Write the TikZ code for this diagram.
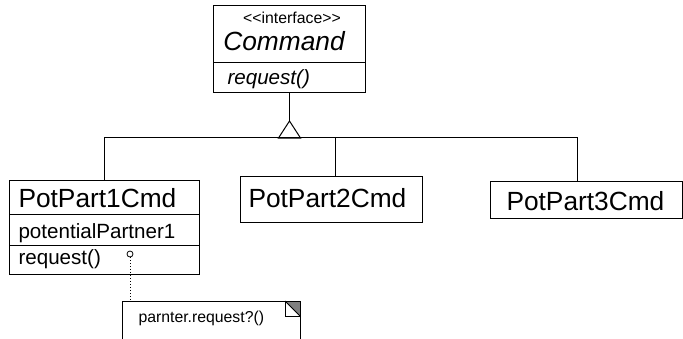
\documentclass[tikz,border=0pt]{standalone}
\usepackage{fontspec}
\setmainfont{Liberation Sans}
\usetikzlibrary{calc}
\usetikzlibrary{positioning}

\begin{document}
\begin{tikzpicture}[x=1pt,y=-1pt,line width=1pt,box/.style={draw,rectangle,inner sep=0pt,anchor=north west},lbl/.style={inner sep=0pt,anchor=base west},big/.style={font=\fontsize{26.3}{30}\selectfont},mid/.style={font=\fontsize{20.6}{24}\selectfont},small/.style={font=\fontsize{15.8}{18}\selectfont}]
\clip (0,0) rectangle (683,338);
% interface
\node (cmdHead) at (213,5) [box,minimum width=152,minimum height=57] {};
\node (cmdOps) at (213,62) [box,minimum width=152,minimum height=30] {};
\node (cmdStereo) at (292,23) [lbl,small,anchor=base] {<\kern0pt<interface>\kern0pt>};
\node (cmdName) at (284,50) [lbl,big,anchor=base] {\itshape Command};
\node (cmdReq) at (227,84) [lbl,mid] {\itshape request()};
% concrete commands
\node (p1Name) at (9,180) [box,minimum width=190,minimum height=34] {};
\node (p1Attr) at (9,214) [box,minimum width=190,minimum height=31] {};
\node (p1Ops) at (9,245) [box,minimum width=190,minimum height=29] {};
\node (p1Txt) at (18,207) [lbl,big] {PotPart1Cmd};
\node (p1AttrTxt) at (18,238) [lbl,mid] {potentialPartner1};
\node (p1OpsTxt) at (18,264) [lbl,mid] {request()};
\node (p2Name) at (240,176) [box,minimum width=182,minimum height=46] {};
\node (p2Txt) at (248,207) [lbl,big] {PotPart2Cmd};
\node (p3Name) at (490,181) [box,minimum width=192,minimum height=37] {};
\node (p3Txt) at (506,210) [lbl,big] {PotPart3Cmd};
% generalization
\coordinate (apex) at ($(cmdOps.south)+(0,28)$);
\coordinate (j1) at (104,137);
\coordinate (j2) at (335,137);
\coordinate (j3) at (577,137);
\draw (cmdOps.south) -- (apex);
\draw (apex) -- ++(11,17) -- ++(-22,0) -- cycle;
\draw (j1) -- (j3);
\draw (j1) -- (j1 |- p1Name.north);
\draw (j2) -- (j2 |- p2Name.north);
\draw (j3) -- (j3 |- p3Name.north);
% note
\node (note) at (122,301) [box,minimum width=178,minimum height=60] {};
\node (noteTxt) at (138,322) [lbl,small] {parnter.request?()};
\fill[gray] (285,301) -- (300,301) -- (300,316) -- cycle;
\draw (285,301) rectangle (300,316);
\draw (285,301) -- (300,316);
\node (reqEnd) at (130,254) [circle,draw,inner sep=0pt,minimum size=6pt,line width=0.8pt] {};
\draw[dotted] (reqEnd) -- (reqEnd |- note.north);
\end{tikzpicture}
\end{document}
